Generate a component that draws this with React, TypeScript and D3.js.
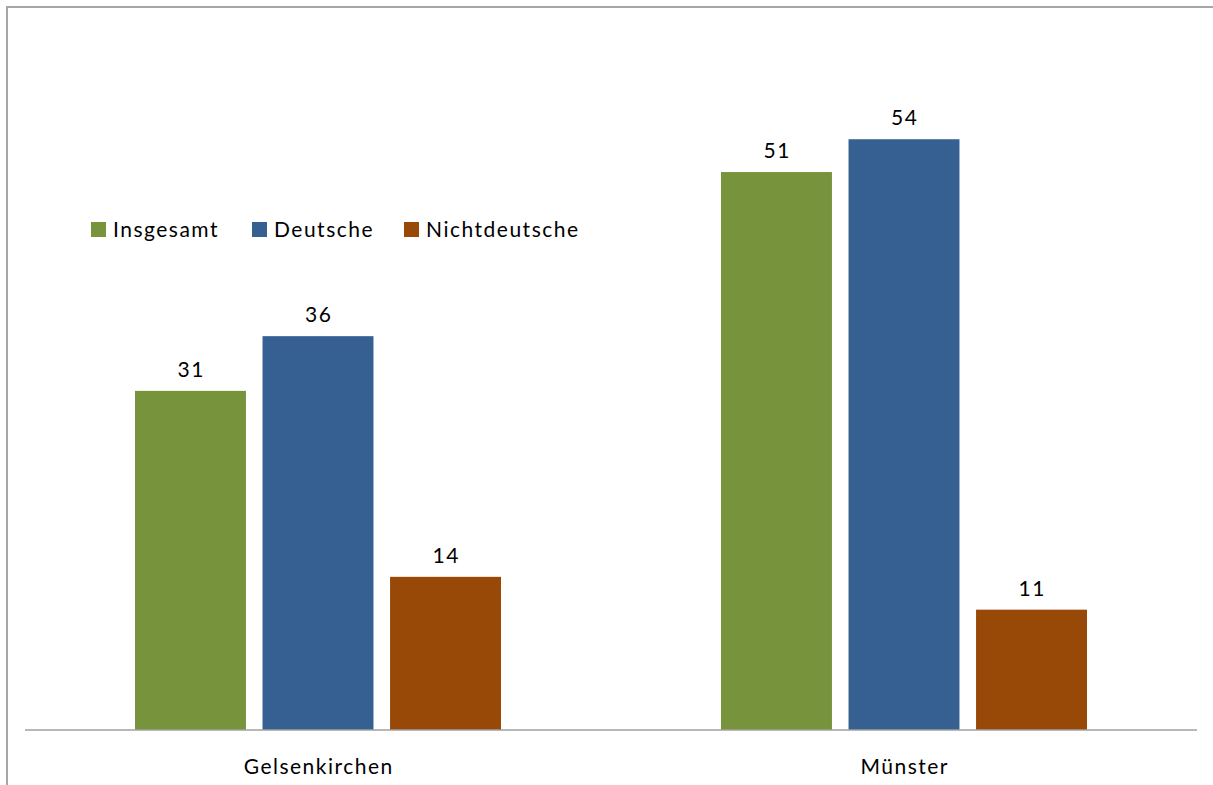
import React from "react";
import * as d3 from "d3";

const categories = ["Gelsenkirchen", "Münster"];
const seriesNames = ["Insgesamt", "Deutsche", "Nichtdeutsche"];
const seriesColors = ["#77933c", "#366092", "#984807"];
const insgesamt = [31, 51];
const deutsche = [36, 54];
const nichtdeutsche = [14, 11];
const seriesValues = [insgesamt, deutsche, nichtdeutsche];

const W = 1213;
const H = 785;
const FONT = "Lato, 'Open Sans', sans-serif";
const LS = 1.5;

export default function App() {
  const axisY = 730;
  const x0 = d3.scaleBand<string>().domain(categories).range([25, 1197]).paddingInner(0).paddingOuter(0);
  const groupW = 366;
  const x1 = d3.scaleBand<string>().domain(seriesNames).range([0, groupW]).paddingInner(0.13).paddingOuter(0);
  const y = d3.scaleLinear().domain([0, 60]).range([axisY, axisY - 60 * 10.94]);

  return (
    <svg width={W} height={H} style={{ position: "absolute", left: 0, top: 0, background: "#fff" }}>
      <rect x={0} y={0} width={W} height={H} fill="#fff" />
      <path d={`M7,${H + 5} L7,7 L${W + 5},7`} fill="none" stroke="#a6a6a6" strokeWidth={2} />
      {categories.map((c, ci) => {
        const gx = (x0(c) as number) + (x0.bandwidth() - groupW) / 2;
        return (
          <g key={c}>
            {seriesNames.map((s, si) => {
              const v = seriesValues[si][ci];
              const bx = gx + (x1(s) as number);
              return (
                <g key={s}>
                  <rect x={bx} y={y(v)} width={x1.bandwidth()} height={axisY - y(v)} fill={seriesColors[si]} />
                  <text x={bx + x1.bandwidth() / 2 + LS / 2} y={y(v) - 14} textAnchor="middle" fontFamily={FONT} fontSize={21} letterSpacing={LS} fill="#000">
                    {d3.format(".0f")(v)}
                  </text>
                </g>
              );
            })}
            <text x={(x0(c) as number) + x0.bandwidth() / 2 + LS / 2} y={774} textAnchor="middle" fontFamily={FONT} fontSize={21} letterSpacing={LS} fill="#000">
              {c}
            </text>
          </g>
        );
      })}
      <line x1={25} x2={1197} y1={axisY} y2={axisY} stroke="#a0a0a0" strokeWidth={1.5} />
      {seriesNames.map((s, si) => {
        const lx = [91, 252, 404][si];
        return (
          <g key={s}>
            <rect x={lx} y={222} width={15} height={15} fill={seriesColors[si]} />
            <text x={lx + 22} y={237} fontFamily={FONT} fontSize={21} letterSpacing={LS} fill="#000">{s}</text>
          </g>
        );
      })}
    </svg>
  );
}
